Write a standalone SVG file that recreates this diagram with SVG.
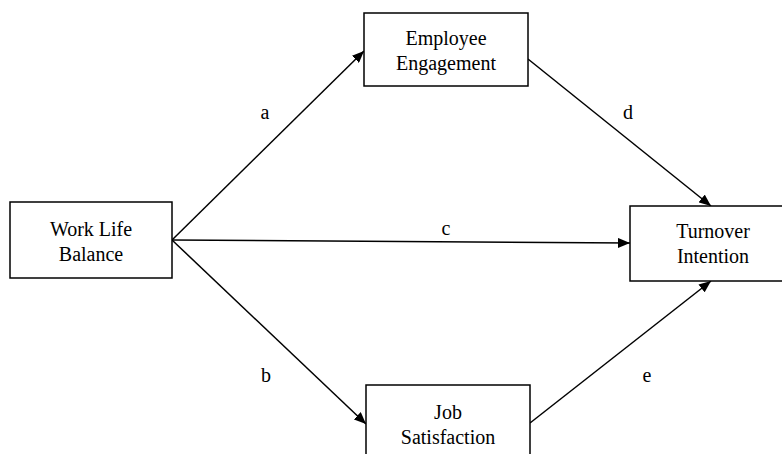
<svg xmlns="http://www.w3.org/2000/svg" width="782" height="454" viewBox="0 0 782 454">
<style>
.box{fill:#fff;stroke:#000;stroke-width:1.5}
.t{font-family:"Liberation Serif","Times New Roman",serif;font-size:20px;fill:#000;text-anchor:middle}
.ln{stroke:#000;stroke-width:1.5;fill:none}
</style>
<defs>
<marker id="ah" viewBox="0 0 12 10" refX="12" refY="5" markerWidth="12" markerHeight="10" markerUnits="userSpaceOnUse" orient="auto">
<path d="M0,0 L12,5 L0,10 Z" fill="#000"/>
</marker>
</defs>
<rect width="782" height="454" fill="#fff"/>
<g id="connectors">
<line class="ln" x1="172" y1="240" x2="364" y2="51" marker-end="url(#ah)"/>
<line class="ln" x1="172" y1="240" x2="366" y2="424" marker-end="url(#ah)"/>
<line class="ln" x1="172" y1="240" x2="630" y2="243" marker-end="url(#ah)"/>
<line class="ln" x1="528" y1="59" x2="711" y2="206" marker-end="url(#ah)"/>
<line class="ln" x1="530" y1="423" x2="711" y2="281" marker-end="url(#ah)"/>
<text class="t" x="265" y="119">a</text>
<text class="t" x="628" y="119">d</text>
<text class="t" x="446" y="235">c</text>
<text class="t" x="266" y="382">b</text>
<text class="t" x="647" y="382">e</text>
</g>
<g id="work-life-balance">
<rect class="box" x="10" y="202" width="162" height="76"/>
<text class="t" x="91" y="236">Work Life</text>
<text class="t" x="91" y="261">Balance</text>
</g>
<g id="employee-engagement">
<rect class="box" x="364" y="13" width="164" height="73"/>
<text class="t" x="446" y="45">Employee</text>
<text class="t" x="446" y="70">Engagement</text>
</g>
<g id="turnover-intention">
<rect class="box" x="630" y="206" width="170" height="75"/>
<text class="t" x="713" y="238">Turnover</text>
<text class="t" x="713" y="263">Intention</text>
</g>
<g id="job-satisfaction">
<rect class="box" x="366" y="385" width="164" height="80"/>
<text class="t" x="448" y="419">Job</text>
<text class="t" x="448" y="444">Satisfaction</text>
</g>
</svg>
